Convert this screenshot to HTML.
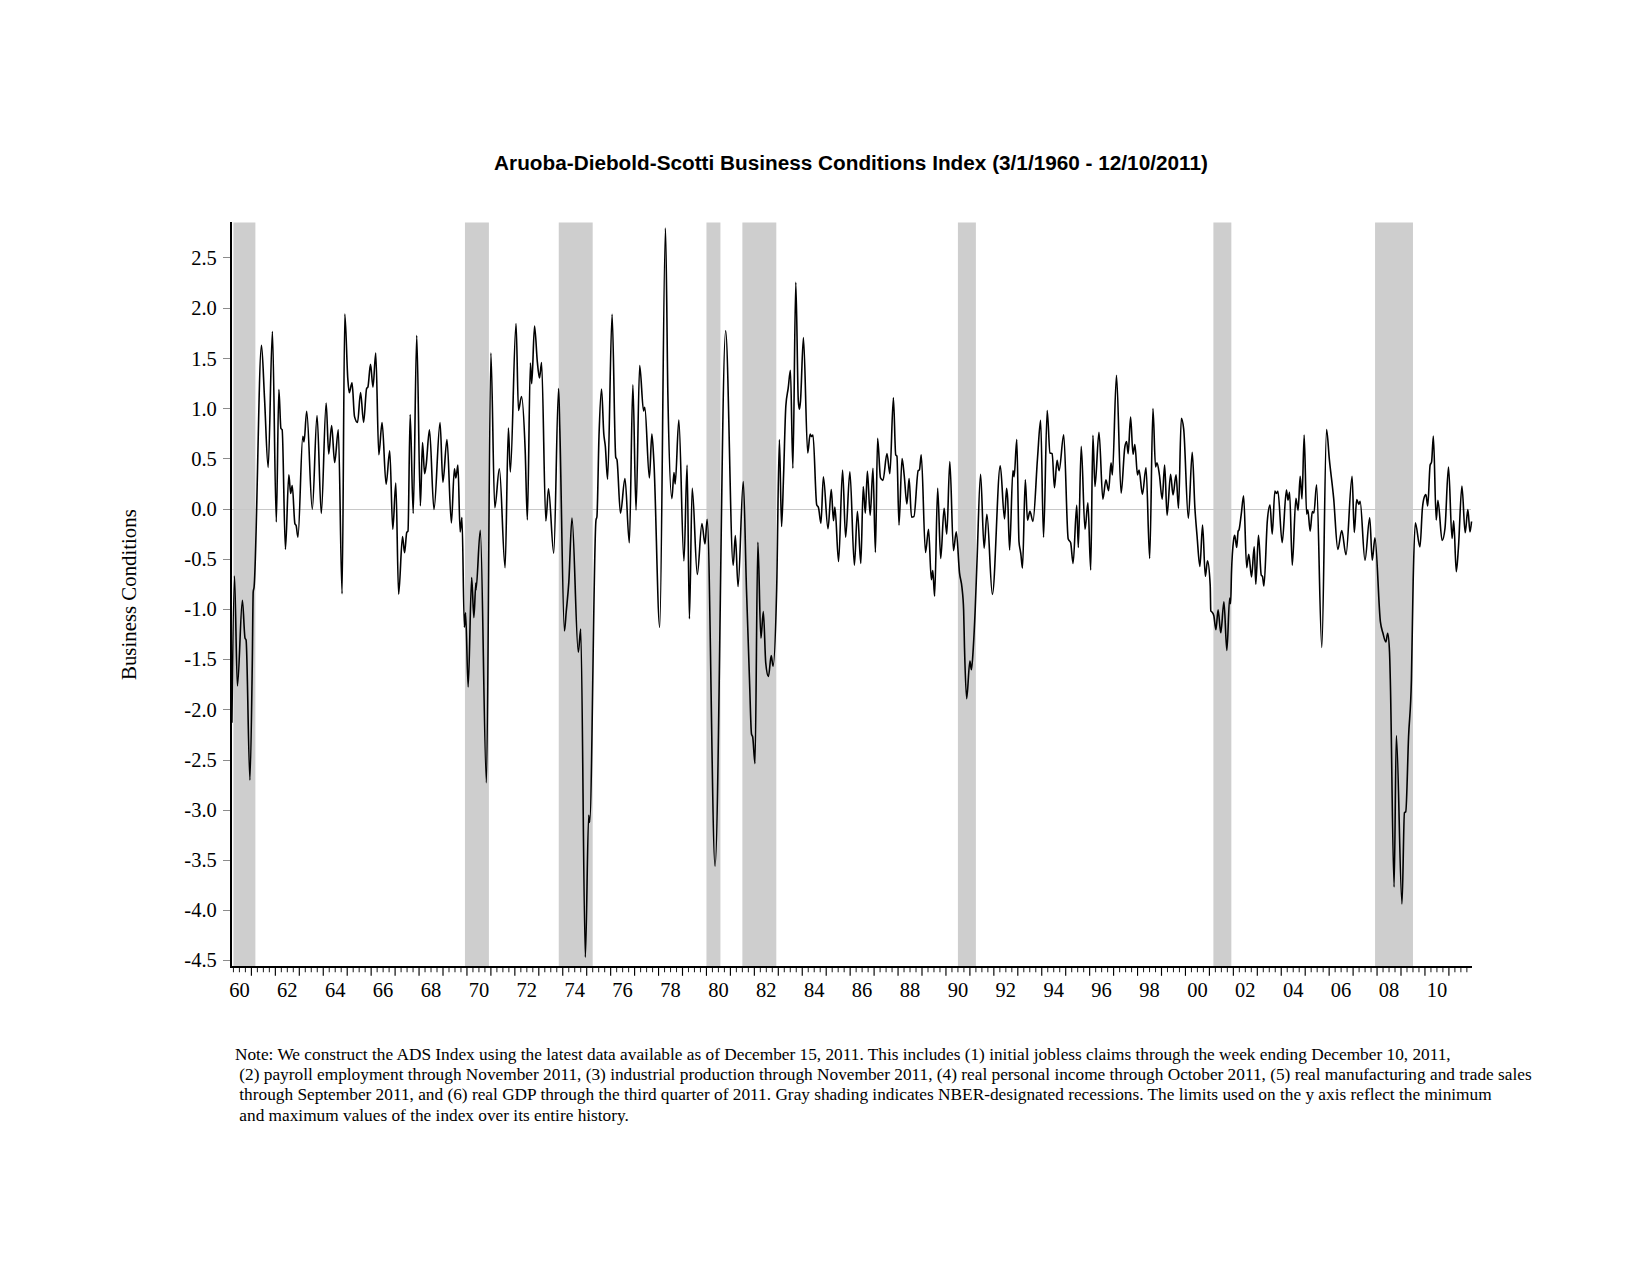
<!DOCTYPE html>
<html><head><meta charset="utf-8"><style>
html,body{margin:0;padding:0;background:#fff;width:1651px;height:1275px;overflow:hidden}
svg{position:absolute;left:0;top:0}
.tl{font-family:"Liberation Serif",serif;font-size:20.5px;fill:#000}
.yt{font-family:"Liberation Serif",serif;font-size:20.85px;fill:#000}
.title{font-family:"Liberation Sans",sans-serif;font-size:20.75px;font-weight:bold;fill:#000}
.note{position:absolute;left:235px;top:1045px;font-family:"Liberation Serif",serif;font-size:17.3px;line-height:20.2px;color:#000;white-space:pre}
</style></head><body>
<svg width="1651" height="1275" viewBox="0 0 1651 1275">
<rect x="233.44" y="222.5" width="21.95" height="744.5" fill="#cecece"/>
<rect x="464.95" y="222.5" width="23.95" height="744.5" fill="#cecece"/>
<rect x="558.76" y="222.5" width="33.93" height="744.5" fill="#cecece"/>
<rect x="706.45" y="222.5" width="13.97" height="744.5" fill="#cecece"/>
<rect x="742.38" y="222.5" width="33.93" height="744.5" fill="#cecece"/>
<rect x="957.92" y="222.5" width="17.96" height="744.5" fill="#cecece"/>
<rect x="1213.39" y="222.5" width="17.96" height="744.5" fill="#cecece"/>
<rect x="1375.05" y="222.5" width="37.92" height="744.5" fill="#cecece"/>
<line x1="232" y1="509.5" x2="1471" y2="509.5" stroke="#c8c8c8" stroke-width="1"/>
<line x1="223" y1="960.50" x2="230" y2="960.50" stroke="#8c8c8c" stroke-width="1"/>
<text x="216.8" y="967.35" text-anchor="end" class="tl">-4.5</text>
<line x1="223" y1="910.50" x2="230" y2="910.50" stroke="#8c8c8c" stroke-width="1"/>
<text x="216.8" y="917.20" text-anchor="end" class="tl">-4.0</text>
<line x1="223" y1="860.50" x2="230" y2="860.50" stroke="#8c8c8c" stroke-width="1"/>
<text x="216.8" y="867.05" text-anchor="end" class="tl">-3.5</text>
<line x1="223" y1="810.50" x2="230" y2="810.50" stroke="#8c8c8c" stroke-width="1"/>
<text x="216.8" y="816.90" text-anchor="end" class="tl">-3.0</text>
<line x1="223" y1="760.50" x2="230" y2="760.50" stroke="#8c8c8c" stroke-width="1"/>
<text x="216.8" y="766.75" text-anchor="end" class="tl">-2.5</text>
<line x1="223" y1="709.50" x2="230" y2="709.50" stroke="#8c8c8c" stroke-width="1"/>
<text x="216.8" y="716.60" text-anchor="end" class="tl">-2.0</text>
<line x1="223" y1="659.50" x2="230" y2="659.50" stroke="#8c8c8c" stroke-width="1"/>
<text x="216.8" y="666.45" text-anchor="end" class="tl">-1.5</text>
<line x1="223" y1="609.50" x2="230" y2="609.50" stroke="#8c8c8c" stroke-width="1"/>
<text x="216.8" y="616.30" text-anchor="end" class="tl">-1.0</text>
<line x1="223" y1="559.50" x2="230" y2="559.50" stroke="#8c8c8c" stroke-width="1"/>
<text x="216.8" y="566.15" text-anchor="end" class="tl">-0.5</text>
<line x1="223" y1="509.50" x2="230" y2="509.50" stroke="#8c8c8c" stroke-width="1"/>
<text x="216.8" y="516.00" text-anchor="end" class="tl">0.0</text>
<line x1="223" y1="458.50" x2="230" y2="458.50" stroke="#8c8c8c" stroke-width="1"/>
<text x="216.8" y="465.85" text-anchor="end" class="tl">0.5</text>
<line x1="223" y1="408.50" x2="230" y2="408.50" stroke="#8c8c8c" stroke-width="1"/>
<text x="216.8" y="415.70" text-anchor="end" class="tl">1.0</text>
<line x1="223" y1="358.50" x2="230" y2="358.50" stroke="#8c8c8c" stroke-width="1"/>
<text x="216.8" y="365.55" text-anchor="end" class="tl">1.5</text>
<line x1="223" y1="308.50" x2="230" y2="308.50" stroke="#8c8c8c" stroke-width="1"/>
<text x="216.8" y="315.40" text-anchor="end" class="tl">2.0</text>
<line x1="223" y1="257.50" x2="230" y2="257.50" stroke="#8c8c8c" stroke-width="1"/>
<text x="216.8" y="265.25" text-anchor="end" class="tl">2.5</text>
<line x1="233.44" y1="967" x2="233.44" y2="972.2" stroke="#222" stroke-width="1.05"/>
<line x1="239.42" y1="967" x2="239.42" y2="972.2" stroke="#222" stroke-width="1.05"/>
<line x1="245.41" y1="967" x2="245.41" y2="972.2" stroke="#222" stroke-width="1.05"/>
<line x1="251.40" y1="967" x2="251.40" y2="975.8" stroke="#000" stroke-width="1.15"/>
<line x1="257.39" y1="967" x2="257.39" y2="972.2" stroke="#222" stroke-width="1.05"/>
<line x1="263.38" y1="967" x2="263.38" y2="972.2" stroke="#222" stroke-width="1.05"/>
<line x1="269.36" y1="967" x2="269.36" y2="972.2" stroke="#222" stroke-width="1.05"/>
<line x1="275.35" y1="967" x2="275.35" y2="975.8" stroke="#000" stroke-width="1.15"/>
<line x1="281.34" y1="967" x2="281.34" y2="972.2" stroke="#222" stroke-width="1.05"/>
<line x1="287.32" y1="967" x2="287.32" y2="972.2" stroke="#222" stroke-width="1.05"/>
<line x1="293.31" y1="967" x2="293.31" y2="972.2" stroke="#222" stroke-width="1.05"/>
<line x1="299.30" y1="967" x2="299.30" y2="975.8" stroke="#000" stroke-width="1.15"/>
<line x1="305.29" y1="967" x2="305.29" y2="972.2" stroke="#222" stroke-width="1.05"/>
<line x1="311.27" y1="967" x2="311.27" y2="972.2" stroke="#222" stroke-width="1.05"/>
<line x1="317.26" y1="967" x2="317.26" y2="972.2" stroke="#222" stroke-width="1.05"/>
<line x1="323.25" y1="967" x2="323.25" y2="975.8" stroke="#000" stroke-width="1.15"/>
<line x1="329.24" y1="967" x2="329.24" y2="972.2" stroke="#222" stroke-width="1.05"/>
<line x1="335.22" y1="967" x2="335.22" y2="972.2" stroke="#222" stroke-width="1.05"/>
<line x1="341.21" y1="967" x2="341.21" y2="972.2" stroke="#222" stroke-width="1.05"/>
<line x1="347.20" y1="967" x2="347.20" y2="975.8" stroke="#000" stroke-width="1.15"/>
<line x1="353.19" y1="967" x2="353.19" y2="972.2" stroke="#222" stroke-width="1.05"/>
<line x1="359.17" y1="967" x2="359.17" y2="972.2" stroke="#222" stroke-width="1.05"/>
<line x1="365.16" y1="967" x2="365.16" y2="972.2" stroke="#222" stroke-width="1.05"/>
<line x1="371.15" y1="967" x2="371.15" y2="975.8" stroke="#000" stroke-width="1.15"/>
<line x1="377.14" y1="967" x2="377.14" y2="972.2" stroke="#222" stroke-width="1.05"/>
<line x1="383.12" y1="967" x2="383.12" y2="972.2" stroke="#222" stroke-width="1.05"/>
<line x1="389.11" y1="967" x2="389.11" y2="972.2" stroke="#222" stroke-width="1.05"/>
<line x1="395.10" y1="967" x2="395.10" y2="975.8" stroke="#000" stroke-width="1.15"/>
<line x1="401.09" y1="967" x2="401.09" y2="972.2" stroke="#222" stroke-width="1.05"/>
<line x1="407.07" y1="967" x2="407.07" y2="972.2" stroke="#222" stroke-width="1.05"/>
<line x1="413.06" y1="967" x2="413.06" y2="972.2" stroke="#222" stroke-width="1.05"/>
<line x1="419.05" y1="967" x2="419.05" y2="975.8" stroke="#000" stroke-width="1.15"/>
<line x1="425.04" y1="967" x2="425.04" y2="972.2" stroke="#222" stroke-width="1.05"/>
<line x1="431.02" y1="967" x2="431.02" y2="972.2" stroke="#222" stroke-width="1.05"/>
<line x1="437.01" y1="967" x2="437.01" y2="972.2" stroke="#222" stroke-width="1.05"/>
<line x1="443.00" y1="967" x2="443.00" y2="975.8" stroke="#000" stroke-width="1.15"/>
<line x1="448.99" y1="967" x2="448.99" y2="972.2" stroke="#222" stroke-width="1.05"/>
<line x1="454.98" y1="967" x2="454.98" y2="972.2" stroke="#222" stroke-width="1.05"/>
<line x1="460.96" y1="967" x2="460.96" y2="972.2" stroke="#222" stroke-width="1.05"/>
<line x1="466.95" y1="967" x2="466.95" y2="975.8" stroke="#000" stroke-width="1.15"/>
<line x1="472.94" y1="967" x2="472.94" y2="972.2" stroke="#222" stroke-width="1.05"/>
<line x1="478.92" y1="967" x2="478.92" y2="972.2" stroke="#222" stroke-width="1.05"/>
<line x1="484.91" y1="967" x2="484.91" y2="972.2" stroke="#222" stroke-width="1.05"/>
<line x1="490.90" y1="967" x2="490.90" y2="975.8" stroke="#000" stroke-width="1.15"/>
<line x1="496.89" y1="967" x2="496.89" y2="972.2" stroke="#222" stroke-width="1.05"/>
<line x1="502.88" y1="967" x2="502.88" y2="972.2" stroke="#222" stroke-width="1.05"/>
<line x1="508.86" y1="967" x2="508.86" y2="972.2" stroke="#222" stroke-width="1.05"/>
<line x1="514.85" y1="967" x2="514.85" y2="975.8" stroke="#000" stroke-width="1.15"/>
<line x1="520.84" y1="967" x2="520.84" y2="972.2" stroke="#222" stroke-width="1.05"/>
<line x1="526.83" y1="967" x2="526.83" y2="972.2" stroke="#222" stroke-width="1.05"/>
<line x1="532.81" y1="967" x2="532.81" y2="972.2" stroke="#222" stroke-width="1.05"/>
<line x1="538.80" y1="967" x2="538.80" y2="975.8" stroke="#000" stroke-width="1.15"/>
<line x1="544.79" y1="967" x2="544.79" y2="972.2" stroke="#222" stroke-width="1.05"/>
<line x1="550.77" y1="967" x2="550.77" y2="972.2" stroke="#222" stroke-width="1.05"/>
<line x1="556.76" y1="967" x2="556.76" y2="972.2" stroke="#222" stroke-width="1.05"/>
<line x1="562.75" y1="967" x2="562.75" y2="975.8" stroke="#000" stroke-width="1.15"/>
<line x1="568.74" y1="967" x2="568.74" y2="972.2" stroke="#222" stroke-width="1.05"/>
<line x1="574.72" y1="967" x2="574.72" y2="972.2" stroke="#222" stroke-width="1.05"/>
<line x1="580.71" y1="967" x2="580.71" y2="972.2" stroke="#222" stroke-width="1.05"/>
<line x1="586.70" y1="967" x2="586.70" y2="975.8" stroke="#000" stroke-width="1.15"/>
<line x1="592.69" y1="967" x2="592.69" y2="972.2" stroke="#222" stroke-width="1.05"/>
<line x1="598.67" y1="967" x2="598.67" y2="972.2" stroke="#222" stroke-width="1.05"/>
<line x1="604.66" y1="967" x2="604.66" y2="972.2" stroke="#222" stroke-width="1.05"/>
<line x1="610.65" y1="967" x2="610.65" y2="975.8" stroke="#000" stroke-width="1.15"/>
<line x1="616.64" y1="967" x2="616.64" y2="972.2" stroke="#222" stroke-width="1.05"/>
<line x1="622.62" y1="967" x2="622.62" y2="972.2" stroke="#222" stroke-width="1.05"/>
<line x1="628.61" y1="967" x2="628.61" y2="972.2" stroke="#222" stroke-width="1.05"/>
<line x1="634.60" y1="967" x2="634.60" y2="975.8" stroke="#000" stroke-width="1.15"/>
<line x1="640.59" y1="967" x2="640.59" y2="972.2" stroke="#222" stroke-width="1.05"/>
<line x1="646.58" y1="967" x2="646.58" y2="972.2" stroke="#222" stroke-width="1.05"/>
<line x1="652.56" y1="967" x2="652.56" y2="972.2" stroke="#222" stroke-width="1.05"/>
<line x1="658.55" y1="967" x2="658.55" y2="975.8" stroke="#000" stroke-width="1.15"/>
<line x1="664.54" y1="967" x2="664.54" y2="972.2" stroke="#222" stroke-width="1.05"/>
<line x1="670.52" y1="967" x2="670.52" y2="972.2" stroke="#222" stroke-width="1.05"/>
<line x1="676.51" y1="967" x2="676.51" y2="972.2" stroke="#222" stroke-width="1.05"/>
<line x1="682.50" y1="967" x2="682.50" y2="975.8" stroke="#000" stroke-width="1.15"/>
<line x1="688.49" y1="967" x2="688.49" y2="972.2" stroke="#222" stroke-width="1.05"/>
<line x1="694.47" y1="967" x2="694.47" y2="972.2" stroke="#222" stroke-width="1.05"/>
<line x1="700.46" y1="967" x2="700.46" y2="972.2" stroke="#222" stroke-width="1.05"/>
<line x1="706.45" y1="967" x2="706.45" y2="975.8" stroke="#000" stroke-width="1.15"/>
<line x1="712.44" y1="967" x2="712.44" y2="972.2" stroke="#222" stroke-width="1.05"/>
<line x1="718.42" y1="967" x2="718.42" y2="972.2" stroke="#222" stroke-width="1.05"/>
<line x1="724.41" y1="967" x2="724.41" y2="972.2" stroke="#222" stroke-width="1.05"/>
<line x1="730.40" y1="967" x2="730.40" y2="975.8" stroke="#000" stroke-width="1.15"/>
<line x1="736.39" y1="967" x2="736.39" y2="972.2" stroke="#222" stroke-width="1.05"/>
<line x1="742.38" y1="967" x2="742.38" y2="972.2" stroke="#222" stroke-width="1.05"/>
<line x1="748.36" y1="967" x2="748.36" y2="972.2" stroke="#222" stroke-width="1.05"/>
<line x1="754.35" y1="967" x2="754.35" y2="975.8" stroke="#000" stroke-width="1.15"/>
<line x1="760.34" y1="967" x2="760.34" y2="972.2" stroke="#222" stroke-width="1.05"/>
<line x1="766.33" y1="967" x2="766.33" y2="972.2" stroke="#222" stroke-width="1.05"/>
<line x1="772.31" y1="967" x2="772.31" y2="972.2" stroke="#222" stroke-width="1.05"/>
<line x1="778.30" y1="967" x2="778.30" y2="975.8" stroke="#000" stroke-width="1.15"/>
<line x1="784.29" y1="967" x2="784.29" y2="972.2" stroke="#222" stroke-width="1.05"/>
<line x1="790.27" y1="967" x2="790.27" y2="972.2" stroke="#222" stroke-width="1.05"/>
<line x1="796.26" y1="967" x2="796.26" y2="972.2" stroke="#222" stroke-width="1.05"/>
<line x1="802.25" y1="967" x2="802.25" y2="975.8" stroke="#000" stroke-width="1.15"/>
<line x1="808.24" y1="967" x2="808.24" y2="972.2" stroke="#222" stroke-width="1.05"/>
<line x1="814.22" y1="967" x2="814.22" y2="972.2" stroke="#222" stroke-width="1.05"/>
<line x1="820.21" y1="967" x2="820.21" y2="972.2" stroke="#222" stroke-width="1.05"/>
<line x1="826.20" y1="967" x2="826.20" y2="975.8" stroke="#000" stroke-width="1.15"/>
<line x1="832.19" y1="967" x2="832.19" y2="972.2" stroke="#222" stroke-width="1.05"/>
<line x1="838.17" y1="967" x2="838.17" y2="972.2" stroke="#222" stroke-width="1.05"/>
<line x1="844.16" y1="967" x2="844.16" y2="972.2" stroke="#222" stroke-width="1.05"/>
<line x1="850.15" y1="967" x2="850.15" y2="975.8" stroke="#000" stroke-width="1.15"/>
<line x1="856.14" y1="967" x2="856.14" y2="972.2" stroke="#222" stroke-width="1.05"/>
<line x1="862.12" y1="967" x2="862.12" y2="972.2" stroke="#222" stroke-width="1.05"/>
<line x1="868.11" y1="967" x2="868.11" y2="972.2" stroke="#222" stroke-width="1.05"/>
<line x1="874.10" y1="967" x2="874.10" y2="975.8" stroke="#000" stroke-width="1.15"/>
<line x1="880.09" y1="967" x2="880.09" y2="972.2" stroke="#222" stroke-width="1.05"/>
<line x1="886.08" y1="967" x2="886.08" y2="972.2" stroke="#222" stroke-width="1.05"/>
<line x1="892.06" y1="967" x2="892.06" y2="972.2" stroke="#222" stroke-width="1.05"/>
<line x1="898.05" y1="967" x2="898.05" y2="975.8" stroke="#000" stroke-width="1.15"/>
<line x1="904.04" y1="967" x2="904.04" y2="972.2" stroke="#222" stroke-width="1.05"/>
<line x1="910.02" y1="967" x2="910.02" y2="972.2" stroke="#222" stroke-width="1.05"/>
<line x1="916.01" y1="967" x2="916.01" y2="972.2" stroke="#222" stroke-width="1.05"/>
<line x1="922.00" y1="967" x2="922.00" y2="975.8" stroke="#000" stroke-width="1.15"/>
<line x1="927.99" y1="967" x2="927.99" y2="972.2" stroke="#222" stroke-width="1.05"/>
<line x1="933.97" y1="967" x2="933.97" y2="972.2" stroke="#222" stroke-width="1.05"/>
<line x1="939.96" y1="967" x2="939.96" y2="972.2" stroke="#222" stroke-width="1.05"/>
<line x1="945.95" y1="967" x2="945.95" y2="975.8" stroke="#000" stroke-width="1.15"/>
<line x1="951.94" y1="967" x2="951.94" y2="972.2" stroke="#222" stroke-width="1.05"/>
<line x1="957.92" y1="967" x2="957.92" y2="972.2" stroke="#222" stroke-width="1.05"/>
<line x1="963.91" y1="967" x2="963.91" y2="972.2" stroke="#222" stroke-width="1.05"/>
<line x1="969.90" y1="967" x2="969.90" y2="975.8" stroke="#000" stroke-width="1.15"/>
<line x1="975.89" y1="967" x2="975.89" y2="972.2" stroke="#222" stroke-width="1.05"/>
<line x1="981.88" y1="967" x2="981.88" y2="972.2" stroke="#222" stroke-width="1.05"/>
<line x1="987.86" y1="967" x2="987.86" y2="972.2" stroke="#222" stroke-width="1.05"/>
<line x1="993.85" y1="967" x2="993.85" y2="975.8" stroke="#000" stroke-width="1.15"/>
<line x1="999.84" y1="967" x2="999.84" y2="972.2" stroke="#222" stroke-width="1.05"/>
<line x1="1005.83" y1="967" x2="1005.83" y2="972.2" stroke="#222" stroke-width="1.05"/>
<line x1="1011.81" y1="967" x2="1011.81" y2="972.2" stroke="#222" stroke-width="1.05"/>
<line x1="1017.80" y1="967" x2="1017.80" y2="975.8" stroke="#000" stroke-width="1.15"/>
<line x1="1023.79" y1="967" x2="1023.79" y2="972.2" stroke="#222" stroke-width="1.05"/>
<line x1="1029.77" y1="967" x2="1029.77" y2="972.2" stroke="#222" stroke-width="1.05"/>
<line x1="1035.76" y1="967" x2="1035.76" y2="972.2" stroke="#222" stroke-width="1.05"/>
<line x1="1041.75" y1="967" x2="1041.75" y2="975.8" stroke="#000" stroke-width="1.15"/>
<line x1="1047.74" y1="967" x2="1047.74" y2="972.2" stroke="#222" stroke-width="1.05"/>
<line x1="1053.72" y1="967" x2="1053.72" y2="972.2" stroke="#222" stroke-width="1.05"/>
<line x1="1059.71" y1="967" x2="1059.71" y2="972.2" stroke="#222" stroke-width="1.05"/>
<line x1="1065.70" y1="967" x2="1065.70" y2="975.8" stroke="#000" stroke-width="1.15"/>
<line x1="1071.69" y1="967" x2="1071.69" y2="972.2" stroke="#222" stroke-width="1.05"/>
<line x1="1077.67" y1="967" x2="1077.67" y2="972.2" stroke="#222" stroke-width="1.05"/>
<line x1="1083.66" y1="967" x2="1083.66" y2="972.2" stroke="#222" stroke-width="1.05"/>
<line x1="1089.65" y1="967" x2="1089.65" y2="975.8" stroke="#000" stroke-width="1.15"/>
<line x1="1095.64" y1="967" x2="1095.64" y2="972.2" stroke="#222" stroke-width="1.05"/>
<line x1="1101.62" y1="967" x2="1101.62" y2="972.2" stroke="#222" stroke-width="1.05"/>
<line x1="1107.61" y1="967" x2="1107.61" y2="972.2" stroke="#222" stroke-width="1.05"/>
<line x1="1113.60" y1="967" x2="1113.60" y2="975.8" stroke="#000" stroke-width="1.15"/>
<line x1="1119.59" y1="967" x2="1119.59" y2="972.2" stroke="#222" stroke-width="1.05"/>
<line x1="1125.58" y1="967" x2="1125.58" y2="972.2" stroke="#222" stroke-width="1.05"/>
<line x1="1131.56" y1="967" x2="1131.56" y2="972.2" stroke="#222" stroke-width="1.05"/>
<line x1="1137.55" y1="967" x2="1137.55" y2="975.8" stroke="#000" stroke-width="1.15"/>
<line x1="1143.54" y1="967" x2="1143.54" y2="972.2" stroke="#222" stroke-width="1.05"/>
<line x1="1149.52" y1="967" x2="1149.52" y2="972.2" stroke="#222" stroke-width="1.05"/>
<line x1="1155.51" y1="967" x2="1155.51" y2="972.2" stroke="#222" stroke-width="1.05"/>
<line x1="1161.50" y1="967" x2="1161.50" y2="975.8" stroke="#000" stroke-width="1.15"/>
<line x1="1167.49" y1="967" x2="1167.49" y2="972.2" stroke="#222" stroke-width="1.05"/>
<line x1="1173.47" y1="967" x2="1173.47" y2="972.2" stroke="#222" stroke-width="1.05"/>
<line x1="1179.46" y1="967" x2="1179.46" y2="972.2" stroke="#222" stroke-width="1.05"/>
<line x1="1185.45" y1="967" x2="1185.45" y2="975.8" stroke="#000" stroke-width="1.15"/>
<line x1="1191.44" y1="967" x2="1191.44" y2="972.2" stroke="#222" stroke-width="1.05"/>
<line x1="1197.42" y1="967" x2="1197.42" y2="972.2" stroke="#222" stroke-width="1.05"/>
<line x1="1203.41" y1="967" x2="1203.41" y2="972.2" stroke="#222" stroke-width="1.05"/>
<line x1="1209.40" y1="967" x2="1209.40" y2="975.8" stroke="#000" stroke-width="1.15"/>
<line x1="1215.39" y1="967" x2="1215.39" y2="972.2" stroke="#222" stroke-width="1.05"/>
<line x1="1221.38" y1="967" x2="1221.38" y2="972.2" stroke="#222" stroke-width="1.05"/>
<line x1="1227.36" y1="967" x2="1227.36" y2="972.2" stroke="#222" stroke-width="1.05"/>
<line x1="1233.35" y1="967" x2="1233.35" y2="975.8" stroke="#000" stroke-width="1.15"/>
<line x1="1239.34" y1="967" x2="1239.34" y2="972.2" stroke="#222" stroke-width="1.05"/>
<line x1="1245.33" y1="967" x2="1245.33" y2="972.2" stroke="#222" stroke-width="1.05"/>
<line x1="1251.31" y1="967" x2="1251.31" y2="972.2" stroke="#222" stroke-width="1.05"/>
<line x1="1257.30" y1="967" x2="1257.30" y2="975.8" stroke="#000" stroke-width="1.15"/>
<line x1="1263.29" y1="967" x2="1263.29" y2="972.2" stroke="#222" stroke-width="1.05"/>
<line x1="1269.28" y1="967" x2="1269.28" y2="972.2" stroke="#222" stroke-width="1.05"/>
<line x1="1275.26" y1="967" x2="1275.26" y2="972.2" stroke="#222" stroke-width="1.05"/>
<line x1="1281.25" y1="967" x2="1281.25" y2="975.8" stroke="#000" stroke-width="1.15"/>
<line x1="1287.24" y1="967" x2="1287.24" y2="972.2" stroke="#222" stroke-width="1.05"/>
<line x1="1293.22" y1="967" x2="1293.22" y2="972.2" stroke="#222" stroke-width="1.05"/>
<line x1="1299.21" y1="967" x2="1299.21" y2="972.2" stroke="#222" stroke-width="1.05"/>
<line x1="1305.20" y1="967" x2="1305.20" y2="975.8" stroke="#000" stroke-width="1.15"/>
<line x1="1311.19" y1="967" x2="1311.19" y2="972.2" stroke="#222" stroke-width="1.05"/>
<line x1="1317.17" y1="967" x2="1317.17" y2="972.2" stroke="#222" stroke-width="1.05"/>
<line x1="1323.16" y1="967" x2="1323.16" y2="972.2" stroke="#222" stroke-width="1.05"/>
<line x1="1329.15" y1="967" x2="1329.15" y2="975.8" stroke="#000" stroke-width="1.15"/>
<line x1="1335.14" y1="967" x2="1335.14" y2="972.2" stroke="#222" stroke-width="1.05"/>
<line x1="1341.12" y1="967" x2="1341.12" y2="972.2" stroke="#222" stroke-width="1.05"/>
<line x1="1347.11" y1="967" x2="1347.11" y2="972.2" stroke="#222" stroke-width="1.05"/>
<line x1="1353.10" y1="967" x2="1353.10" y2="975.8" stroke="#000" stroke-width="1.15"/>
<line x1="1359.09" y1="967" x2="1359.09" y2="972.2" stroke="#222" stroke-width="1.05"/>
<line x1="1365.08" y1="967" x2="1365.08" y2="972.2" stroke="#222" stroke-width="1.05"/>
<line x1="1371.06" y1="967" x2="1371.06" y2="972.2" stroke="#222" stroke-width="1.05"/>
<line x1="1377.05" y1="967" x2="1377.05" y2="975.8" stroke="#000" stroke-width="1.15"/>
<line x1="1383.04" y1="967" x2="1383.04" y2="972.2" stroke="#222" stroke-width="1.05"/>
<line x1="1389.03" y1="967" x2="1389.03" y2="972.2" stroke="#222" stroke-width="1.05"/>
<line x1="1395.01" y1="967" x2="1395.01" y2="972.2" stroke="#222" stroke-width="1.05"/>
<line x1="1401.00" y1="967" x2="1401.00" y2="975.8" stroke="#000" stroke-width="1.15"/>
<line x1="1406.99" y1="967" x2="1406.99" y2="972.2" stroke="#222" stroke-width="1.05"/>
<line x1="1412.97" y1="967" x2="1412.97" y2="972.2" stroke="#222" stroke-width="1.05"/>
<line x1="1418.96" y1="967" x2="1418.96" y2="972.2" stroke="#222" stroke-width="1.05"/>
<line x1="1424.95" y1="967" x2="1424.95" y2="975.8" stroke="#000" stroke-width="1.15"/>
<line x1="1430.94" y1="967" x2="1430.94" y2="972.2" stroke="#222" stroke-width="1.05"/>
<line x1="1436.92" y1="967" x2="1436.92" y2="972.2" stroke="#222" stroke-width="1.05"/>
<line x1="1442.91" y1="967" x2="1442.91" y2="972.2" stroke="#222" stroke-width="1.05"/>
<line x1="1448.90" y1="967" x2="1448.90" y2="975.8" stroke="#000" stroke-width="1.15"/>
<line x1="1454.89" y1="967" x2="1454.89" y2="972.2" stroke="#222" stroke-width="1.05"/>
<line x1="1460.88" y1="967" x2="1460.88" y2="972.2" stroke="#222" stroke-width="1.05"/>
<line x1="1466.86" y1="967" x2="1466.86" y2="972.2" stroke="#222" stroke-width="1.05"/>
<text x="239.42" y="996.6" text-anchor="middle" class="tl">60</text>
<text x="287.32" y="996.6" text-anchor="middle" class="tl">62</text>
<text x="335.22" y="996.6" text-anchor="middle" class="tl">64</text>
<text x="383.12" y="996.6" text-anchor="middle" class="tl">66</text>
<text x="431.02" y="996.6" text-anchor="middle" class="tl">68</text>
<text x="478.92" y="996.6" text-anchor="middle" class="tl">70</text>
<text x="526.83" y="996.6" text-anchor="middle" class="tl">72</text>
<text x="574.72" y="996.6" text-anchor="middle" class="tl">74</text>
<text x="622.62" y="996.6" text-anchor="middle" class="tl">76</text>
<text x="670.52" y="996.6" text-anchor="middle" class="tl">78</text>
<text x="718.42" y="996.6" text-anchor="middle" class="tl">80</text>
<text x="766.33" y="996.6" text-anchor="middle" class="tl">82</text>
<text x="814.22" y="996.6" text-anchor="middle" class="tl">84</text>
<text x="862.12" y="996.6" text-anchor="middle" class="tl">86</text>
<text x="910.02" y="996.6" text-anchor="middle" class="tl">88</text>
<text x="957.92" y="996.6" text-anchor="middle" class="tl">90</text>
<text x="1005.83" y="996.6" text-anchor="middle" class="tl">92</text>
<text x="1053.72" y="996.6" text-anchor="middle" class="tl">94</text>
<text x="1101.62" y="996.6" text-anchor="middle" class="tl">96</text>
<text x="1149.52" y="996.6" text-anchor="middle" class="tl">98</text>
<text x="1197.42" y="996.6" text-anchor="middle" class="tl">00</text>
<text x="1245.33" y="996.6" text-anchor="middle" class="tl">02</text>
<text x="1293.22" y="996.6" text-anchor="middle" class="tl">04</text>
<text x="1341.12" y="996.6" text-anchor="middle" class="tl">06</text>
<text x="1389.03" y="996.6" text-anchor="middle" class="tl">08</text>
<text x="1436.92" y="996.6" text-anchor="middle" class="tl">10</text>
<path d="M231.93,722.67C232.78,649.36 233.63,576.05 234.48,576.05C235.46,576.05 236.43,686.00 237.40,686.00C239.06,686.00 240.72,600.36 242.39,600.36C243.26,600.36 244.13,634.73 245.00,638.00C245.36,639.33 245.71,638.67 246.07,640.00C247.36,644.83 248.64,780.00 249.93,780.00C250.73,780.00 251.53,716.73 252.33,660.00C252.62,639.51 252.91,595.10 253.20,592.00C253.48,589.00 253.76,589.77 254.04,587.50C256.52,567.35 259.00,345.20 261.47,345.20C262.49,345.20 263.50,379.72 264.51,398.09C265.73,420.12 266.95,467.39 268.16,467.39C269.58,467.39 271.00,331.46 272.42,331.46C273.71,331.46 275.01,521.95 276.31,521.95C277.16,521.95 278.01,389.57 278.86,389.57C279.55,389.57 280.24,427.10 280.93,428.48C281.33,429.29 281.74,428.89 282.14,429.70C283.24,431.88 284.33,549.30 285.43,549.30C286.56,549.30 287.70,474.68 288.83,474.68C289.44,474.68 290.05,493.37 290.65,493.37C291.18,493.37 291.71,485.47 292.23,485.47C293.13,485.47 294.02,521.09 294.91,523.77C295.31,524.98 295.72,524.38 296.12,525.59C296.73,527.42 297.34,537.14 297.95,537.14C299.57,537.14 301.19,436.38 302.81,436.38C303.22,436.38 303.62,441.85 304.03,441.85C304.92,441.85 305.81,411.22 306.70,411.22C308.57,411.22 310.43,509.18 312.29,509.18C313.88,509.18 315.46,415.47 317.04,415.47C318.45,415.47 319.87,513.43 321.29,513.43C322.91,513.43 324.53,402.95 326.16,402.95C327.01,402.95 327.86,454.01 328.71,454.01C329.68,454.01 330.65,425.44 331.63,425.44C332.64,425.44 333.65,462.52 334.67,462.52C335.88,462.52 337.10,429.70 338.31,429.70C339.57,429.70 340.83,593.68 342.08,593.68C342.99,593.68 343.89,314.00 344.80,314.00C345.80,314.00 346.80,365.14 347.80,378.63C348.28,385.20 348.77,392.61 349.26,392.61C350.19,392.61 351.12,382.89 352.05,382.89C352.86,382.89 353.67,413.08 354.48,416.32C355.50,420.37 356.51,422.40 357.52,422.40C358.54,422.40 359.55,392.61 360.56,392.61C361.58,392.61 362.59,422.40 363.60,422.40C364.61,422.40 365.63,390.39 366.64,388.36C367.05,387.55 367.45,387.95 367.86,387.14C368.75,385.36 369.64,364.41 370.53,364.41C371.34,364.41 372.15,387.14 372.96,387.14C373.90,387.14 374.83,353.10 375.76,353.10C376.77,353.10 377.79,454.62 378.80,454.62C379.89,454.62 380.99,422.64 382.08,422.64C383.42,422.64 384.76,484.26 386.09,484.26C387.31,484.26 388.53,450.73 389.74,450.73C390.75,450.73 391.77,529.24 392.78,529.24C393.79,529.24 394.81,483.04 395.82,483.04C396.75,483.04 397.68,594.29 398.62,594.29C399.91,594.29 401.21,536.53 402.51,536.53C403.20,536.53 403.89,552.71 404.57,552.71C405.30,552.71 406.03,533.74 406.76,532.28C407.17,531.47 407.57,531.87 407.98,531.06C408.71,529.60 409.44,414.50 410.17,414.50C411.18,414.50 412.19,513.43 413.21,513.43C414.38,513.43 415.56,335.47 416.73,335.47C417.95,335.47 419.16,505.78 420.38,505.78C421.09,505.78 421.79,442.56 422.50,442.56C423.21,442.56 423.91,473.66 424.62,473.66C425.11,473.66 425.59,469.13 426.08,465.75C427.21,457.86 428.35,429.89 429.48,429.89C430.98,429.89 432.48,509.52 433.98,509.52C436.01,509.52 438.03,422.59 440.06,422.59C440.99,422.59 441.93,482.17 442.86,482.17C444.24,482.17 445.61,439.61 446.99,439.61C448.45,439.61 449.91,522.90 451.37,522.90C452.38,522.90 453.39,468.79 454.41,468.79C454.89,468.79 455.38,477.91 455.87,477.91C456.56,477.91 457.24,465.15 457.93,465.15C458.66,465.15 459.39,531.86 460.12,531.86C460.73,531.86 461.34,517.43 461.95,517.43C462.76,517.43 463.57,627.30 464.38,627.30C464.78,627.30 465.19,612.71 465.59,612.71C466.45,612.71 467.30,686.95 468.15,686.95C469.33,686.95 470.50,577.46 471.67,577.46C472.40,577.46 473.13,617.58 473.86,617.58C474.54,617.58 475.22,583.00 475.90,583.00C475.91,583.00 475.92,590.22 475.93,590.22C477.39,590.22 478.84,530.42 480.30,530.42C482.35,530.42 484.39,782.71 486.44,782.71C487.92,782.71 489.40,353.06 490.88,353.06C492.18,353.06 493.48,507.70 494.77,507.70C496.31,507.70 497.85,468.79 499.39,468.79C501.30,468.79 503.20,567.73 505.11,567.73C506.20,567.73 507.29,428.06 508.39,428.06C509.04,428.06 509.69,471.83 510.33,471.83C512.24,471.83 514.14,323.52 516.05,323.52C516.86,323.52 517.67,410.43 518.48,410.43C519.49,410.43 520.51,396.45 521.52,396.45C522.74,396.45 523.95,418.99 525.17,449.95C525.90,468.52 526.63,519.86 527.36,519.86C528.37,519.86 529.38,363.03 530.40,363.03C530.84,363.03 531.29,383.69 531.73,383.69C532.66,383.69 533.60,325.95 534.53,325.95C535.46,325.95 536.39,352.69 537.33,361.82C538.05,368.92 538.78,378.00 539.50,378.00C540.19,378.00 540.89,362.43 541.58,362.43C543.00,362.43 544.42,521.07 545.84,521.07C546.73,521.07 547.62,488.85 548.51,488.85C550.25,488.85 552.00,553.14 553.74,553.14C555.36,553.14 556.98,388.55 558.60,388.55C559.01,388.55 559.41,414.85 559.82,429.28C561.36,484.13 562.90,630.95 564.44,630.95C565.03,630.95 565.61,618.47 566.20,612.00C567.07,602.46 567.93,595.73 568.80,582.40C569.86,566.12 570.92,518.03 571.98,518.03C574.08,518.03 576.19,652.23 578.30,652.23C579.11,652.23 579.92,629.13 580.73,629.13C582.26,629.13 583.80,957.16 585.33,957.16C586.45,957.16 587.58,815.20 588.70,815.20C589.02,815.20 589.34,822.42 589.66,822.42C591.78,822.42 593.89,534.08 596.00,520.00C596.30,518.00 596.60,519.00 596.90,517.00C597.60,512.33 598.30,456.64 599.00,436.00C599.84,411.23 600.68,389.16 601.52,389.16C602.28,389.16 603.04,424.40 603.80,434.00C604.30,440.31 604.80,440.73 605.30,446.00C606.07,454.07 606.83,479.13 607.60,479.13C609.10,479.13 610.60,314.40 612.10,314.40C613.31,314.40 614.53,452.38 615.74,457.24C616.15,458.86 616.56,458.05 616.96,459.67C618.13,464.36 619.30,513.17 620.47,513.17C621.97,513.17 623.47,478.52 624.97,478.52C626.43,478.52 627.89,542.81 629.35,542.81C630.52,542.81 631.70,384.90 632.87,384.90C633.93,384.90 634.98,510.13 636.03,510.13C637.25,510.13 638.47,365.47 639.68,365.47C640.98,365.47 642.27,411.04 643.57,411.04C643.98,411.04 644.38,407.40 644.79,407.40C646.33,407.40 647.87,477.91 649.41,477.91C650.22,477.91 651.03,434.14 651.84,434.14C652.53,434.14 653.22,450.12 653.91,462.11C655.85,495.94 657.80,627.30 659.74,627.30C661.65,627.30 663.55,228.08 665.46,228.08C666.27,228.08 667.08,353.48 667.89,395.24C669.22,464.13 670.56,498.58 671.90,498.58C672.59,498.58 673.28,472.44 673.97,472.44C674.37,472.44 674.78,483.99 675.18,483.99C676.40,483.99 677.61,420.16 678.83,420.16C680.53,420.16 682.23,561.04 683.94,561.04C684.99,561.04 686.04,465.15 687.10,465.15C687.87,465.15 688.64,618.79 689.41,618.79C690.34,618.79 691.27,488.25 692.20,488.25C693.91,488.25 695.61,574.42 697.31,574.42C698.85,574.42 700.39,523.50 701.93,523.50C702.94,523.50 703.96,544.02 704.97,544.02C705.70,544.02 706.43,519.25 707.16,519.25C709.79,519.25 712.42,866.21 715.05,866.21C718.58,866.21 722.11,330.81 725.64,330.81C728.15,330.81 730.66,565.30 733.18,565.30C733.91,565.30 734.64,535.51 735.36,535.51C736.26,535.51 737.15,586.57 738.04,586.57C739.78,586.57 741.52,481.56 743.27,481.56C744.34,481.56 745.42,555.84 746.50,590.00C747.50,621.71 748.50,651.80 749.50,680.00C750.17,698.80 750.83,730.67 751.50,734.00C751.90,736.00 752.30,735.00 752.70,737.00C753.47,740.83 754.23,763.60 755.00,763.60C755.95,763.60 756.90,542.20 757.86,542.20C758.87,542.20 759.88,638.25 760.90,638.25C761.71,638.25 762.52,611.50 763.33,611.50C764.14,611.50 764.95,655.06 765.76,663.17C766.65,672.09 767.54,676.54 768.43,676.54C769.37,676.54 770.30,655.63 771.23,655.63C771.84,655.63 772.45,666.21 773.05,666.21C774.27,666.21 775.49,637.71 776.70,587.79C777.59,551.18 778.49,439.61 779.38,439.61C780.11,439.61 780.84,526.54 781.57,526.54C782.24,526.54 782.92,493.53 783.60,474.50C784.34,453.73 785.08,417.37 785.82,406.18C786.61,394.19 787.41,394.36 788.20,388.20C788.95,382.39 789.69,370.33 790.44,370.33C791.25,370.33 792.06,468.19 792.87,468.19C793.84,468.19 794.82,282.18 795.79,282.18C796.63,282.18 797.46,388.91 798.30,401.00C798.68,406.48 799.06,409.22 799.44,409.22C799.79,409.22 800.15,405.03 800.50,401.00C801.48,389.80 802.47,337.50 803.45,337.50C804.87,337.50 806.29,452.99 807.71,452.99C808.52,452.99 809.33,434.14 810.14,434.14C810.54,434.14 810.95,436.57 811.35,436.57C811.90,436.57 812.44,434.94 812.99,434.94C814.22,434.94 815.45,500.57 816.69,504.68C817.29,506.71 817.90,505.69 818.51,507.72C819.32,510.42 820.13,523.24 820.94,523.24C821.75,523.24 822.56,476.72 823.37,476.72C824.91,476.72 826.45,528.71 827.99,528.71C829.09,528.71 830.18,489.48 831.28,489.48C832.01,489.48 832.74,520.81 833.47,520.81C833.95,520.81 834.44,507.11 834.92,507.11C836.14,507.11 837.36,561.53 838.57,561.53C839.91,561.53 841.25,470.03 842.58,470.03C843.60,470.03 844.61,537.22 845.62,537.22C847.04,537.22 848.46,471.85 849.88,471.85C851.38,471.85 852.88,565.18 854.38,565.18C855.39,565.18 856.40,511.37 857.42,511.37C858.55,511.37 859.69,563.36 860.82,563.36C861.63,563.36 862.44,486.44 863.25,486.44C863.94,486.44 864.63,513.19 865.32,513.19C866.01,513.19 866.70,471.25 867.39,471.25C868.32,471.25 869.25,515.33 870.18,515.33C871.11,515.33 872.05,468.21 872.98,468.21C873.79,468.21 874.60,552.42 875.41,552.42C876.14,552.42 876.87,438.42 877.60,438.42C878.57,438.42 879.54,475.99 880.52,477.93C881.33,479.55 882.14,480.36 882.95,480.36C884.29,480.36 885.62,453.62 886.96,453.62C887.93,453.62 888.91,473.68 889.88,473.68C891.05,473.68 892.23,397.69 893.40,397.69C894.17,397.69 894.94,453.29 895.71,454.83C896.12,455.64 896.52,455.24 896.93,456.05C897.62,457.43 898.31,525.06 899.00,525.06C900.01,525.06 901.02,458.48 902.04,458.48C902.77,458.48 903.50,468.87 904.22,475.50C905.12,483.60 906.01,504.07 906.90,504.07C907.63,504.07 908.36,478.54 909.09,478.54C909.90,478.54 910.71,517.16 911.52,517.16C912.33,517.16 913.14,516.96 913.95,516.55C915.37,515.84 916.79,472.06 918.21,470.64C918.61,470.23 919.02,470.44 919.42,470.03C920.03,469.42 920.64,454.83 921.25,454.83C922.66,454.83 924.08,552.42 925.50,552.42C926.51,552.42 927.53,529.32 928.54,529.32C929.47,529.32 930.41,579.77 931.34,579.77C931.82,579.77 932.31,570.65 932.80,570.65C933.40,570.65 934.01,596.19 934.62,596.19C935.63,596.19 936.65,488.27 937.66,488.27C938.67,488.27 939.69,558.50 940.70,558.50C941.83,558.50 942.97,508.33 944.10,508.33C944.99,508.33 945.89,534.18 946.78,534.18C947.79,534.18 948.80,461.52 949.82,461.52C951.03,461.52 952.25,550.59 953.47,550.59C954.40,550.59 955.33,531.75 956.26,531.75C957.36,531.75 958.45,563.45 959.54,573.09C960.35,580.22 961.17,579.12 961.98,587.67C962.53,593.48 963.08,595.18 963.63,610.19C963.92,618.18 964.21,636.91 964.50,647.83C965.22,674.35 965.93,698.64 966.64,698.64C967.72,698.64 968.81,661.00 969.90,661.00C970.40,661.00 970.90,669.79 971.41,669.79C972.03,669.79 972.66,657.76 973.29,647.83C973.91,637.90 974.54,624.83 975.17,610.19C975.80,595.55 976.42,576.21 977.05,560.00C978.23,529.62 979.40,474.29 980.58,474.29C981.75,474.29 982.93,548.16 984.10,548.16C985.04,548.16 985.97,514.41 986.90,514.41C988.72,514.41 990.55,594.36 992.37,594.36C995.01,594.36 997.64,465.78 1000.27,465.78C1001.69,465.78 1003.11,518.98 1004.53,518.98C1005.22,518.98 1005.91,488.27 1006.60,488.27C1006.96,488.27 1007.32,493.00 1007.67,498.60C1008.32,508.71 1008.97,549.98 1009.62,549.98C1010.71,549.98 1011.81,470.64 1012.90,470.64C1013.31,470.64 1013.71,476.72 1014.12,476.72C1015.01,476.72 1015.90,439.64 1016.79,439.64C1017.52,439.64 1018.25,531.26 1018.98,541.47C1019.39,547.15 1019.79,547.42 1020.20,549.98C1020.40,551.27 1020.60,552.27 1020.81,553.63C1021.36,557.37 1021.92,568.16 1022.47,568.16C1023.42,568.16 1024.36,479.76 1025.30,479.76C1026.03,479.76 1026.76,520.20 1027.49,520.20C1028.30,520.20 1029.11,511.37 1029.92,511.37C1030.94,511.37 1031.95,521.41 1032.96,521.41C1034.50,521.41 1036.04,477.08 1037.58,457.26C1038.60,444.23 1039.61,420.18 1040.62,420.18C1041.60,420.18 1042.57,537.22 1043.54,537.22C1044.76,537.22 1045.97,410.46 1047.19,410.46C1048.12,410.46 1049.05,452.49 1049.98,453.01C1050.71,453.41 1051.44,453.21 1052.17,453.62C1052.94,454.04 1053.71,487.66 1054.48,487.66C1055.33,487.66 1056.19,460.30 1057.04,460.30C1057.73,460.30 1058.41,470.64 1059.10,470.64C1060.64,470.64 1062.18,434.77 1063.72,434.77C1065.22,434.77 1066.72,534.54 1068.22,539.04C1069.03,541.47 1069.84,540.26 1070.65,542.69C1071.46,545.12 1072.27,563.36 1073.09,563.36C1074.30,563.36 1075.52,505.29 1076.73,505.29C1077.26,505.29 1077.79,547.55 1078.31,547.55C1079.29,547.55 1080.26,446.32 1081.23,446.32C1082.49,446.32 1083.74,529.32 1085.00,529.32C1085.97,529.32 1086.95,502.86 1087.92,502.86C1088.85,502.86 1089.78,570.05 1090.71,570.05C1091.44,570.05 1092.17,435.38 1092.90,435.38C1093.59,435.38 1094.28,486.44 1094.97,486.44C1096.31,486.44 1097.64,432.34 1098.98,432.34C1100.28,432.34 1101.58,499.21 1102.87,499.21C1103.89,499.21 1104.90,479.76 1105.91,479.76C1106.80,479.76 1107.70,490.70 1108.59,490.70C1109.40,490.70 1110.21,462.74 1111.02,462.74C1111.46,462.74 1111.91,474.89 1112.36,474.89C1113.73,474.89 1115.11,375.20 1116.49,375.20C1118.03,375.20 1119.57,493.13 1121.11,493.13C1122.33,493.13 1123.54,455.31 1124.76,447.54C1125.36,443.65 1125.97,441.46 1126.58,441.46C1127.11,441.46 1127.63,453.62 1128.16,453.62C1128.97,453.62 1129.78,417.14 1130.59,417.14C1131.40,417.14 1132.21,454.22 1133.02,454.22C1133.63,454.22 1134.24,444.50 1134.85,444.50C1135.74,444.50 1136.63,474.89 1137.52,474.89C1138.05,474.89 1138.58,470.03 1139.10,470.03C1140.20,470.03 1141.29,494.35 1142.39,494.35C1143.60,494.35 1144.82,467.60 1146.03,467.60C1147.25,467.60 1148.47,558.50 1149.68,558.50C1150.78,558.50 1151.87,408.63 1152.96,408.63C1153.81,408.63 1154.67,466.99 1155.52,466.99C1156.00,466.99 1156.49,462.74 1156.98,462.74C1157.79,462.74 1158.60,469.45 1159.41,474.89C1160.34,481.16 1161.27,499.21 1162.20,499.21C1163.01,499.21 1163.82,465.17 1164.64,465.17C1165.45,465.17 1166.26,515.33 1167.07,515.33C1168.24,515.33 1169.42,474.29 1170.59,474.29C1171.40,474.29 1172.21,494.95 1173.02,494.95C1174.04,494.95 1175.05,474.89 1176.06,474.89C1176.87,474.89 1177.68,508.33 1178.50,508.33C1179.43,508.33 1180.36,418.36 1181.29,418.36C1182.10,418.36 1182.91,422.01 1183.72,429.30C1185.26,443.16 1186.80,518.37 1188.34,518.37C1189.64,518.37 1190.94,452.40 1192.23,452.40C1193.12,452.40 1194.01,493.31 1194.90,508.00C1195.63,520.12 1196.37,527.73 1197.10,536.50C1198.03,547.64 1198.96,566.40 1199.89,566.40C1200.79,566.40 1201.68,525.06 1202.57,525.06C1203.49,525.06 1204.41,576.28 1205.33,576.28C1206.06,576.28 1206.79,560.90 1207.52,560.90C1208.41,560.90 1209.31,569.06 1210.20,585.40C1210.40,589.11 1210.60,610.52 1210.81,610.93C1211.21,611.74 1211.62,611.58 1212.02,612.14C1212.63,612.99 1213.24,613.36 1213.84,615.79C1214.53,618.55 1215.22,629.77 1215.91,629.77C1216.64,629.77 1217.37,609.71 1218.10,609.71C1218.99,609.71 1219.88,632.81 1220.78,632.81C1221.83,632.81 1222.88,601.81 1223.94,601.81C1224.91,601.81 1225.88,650.44 1226.85,650.44C1227.79,650.44 1228.72,598.16 1229.65,598.16C1229.97,598.16 1230.30,603.63 1230.62,603.63C1230.91,603.63 1231.19,581.74 1231.47,573.24C1232.18,552.00 1232.89,545.68 1233.60,540.00C1233.99,536.91 1234.37,535.36 1234.76,535.36C1235.41,535.36 1236.05,547.52 1236.70,547.52C1237.19,547.52 1237.67,532.50 1238.16,531.11C1238.44,530.30 1238.73,530.70 1239.01,529.89C1239.74,527.81 1240.47,520.04 1241.20,514.70C1242.01,508.76 1242.82,495.85 1243.63,495.85C1244.65,495.85 1245.66,567.58 1246.67,567.58C1247.36,567.58 1248.05,554.21 1248.74,554.21C1249.67,554.21 1250.60,576.88 1251.53,576.88C1252.43,576.88 1253.32,546.91 1254.21,546.91C1254.74,546.91 1255.26,584.18 1255.79,584.18C1256.68,584.18 1257.57,535.36 1258.47,535.36C1259.40,535.36 1260.33,573.20 1261.26,575.06C1261.67,575.87 1262.07,575.47 1262.48,576.28C1262.96,577.25 1263.45,586.00 1263.94,586.00C1265.07,586.00 1266.21,534.10 1267.34,520.78C1268.23,510.31 1269.12,504.97 1270.02,504.97C1270.74,504.97 1271.47,534.15 1272.20,534.15C1273.10,534.15 1273.99,490.99 1274.88,490.99C1275.41,490.99 1275.93,493.42 1276.46,493.42C1276.95,493.42 1277.43,491.35 1277.92,491.35C1279.34,491.35 1280.75,542.66 1282.17,542.66C1283.59,542.66 1285.01,490.14 1286.43,490.14C1286.96,490.14 1287.48,500.11 1288.01,500.11C1288.54,500.11 1289.06,492.20 1289.59,492.20C1290.48,492.20 1291.37,565.15 1292.26,565.15C1293.48,565.15 1294.70,498.28 1295.91,498.28C1296.64,498.28 1297.37,510.44 1298.10,510.44C1298.79,510.44 1299.48,476.40 1300.17,476.40C1300.78,476.40 1301.38,498.89 1301.99,498.89C1302.72,498.89 1303.45,435.06 1304.18,435.06C1304.99,435.06 1305.80,514.09 1306.61,514.09C1307.02,514.09 1307.42,509.83 1307.83,509.83C1308.60,509.83 1309.37,531.11 1310.14,531.11C1310.87,531.11 1311.60,511.66 1312.33,511.66C1312.85,511.66 1313.38,512.87 1313.91,512.87C1314.80,512.87 1315.69,484.91 1316.58,484.91C1318.32,484.91 1320.07,647.40 1321.81,647.40C1323.39,647.40 1324.97,429.59 1326.55,429.59C1327.48,429.59 1328.41,450.06 1329.35,459.38C1330.76,473.56 1332.18,482.68 1333.60,497.67C1335.02,512.67 1336.44,549.35 1337.86,549.35C1339.15,549.35 1340.45,530.50 1341.75,530.50C1343.17,530.50 1344.58,554.82 1346.00,554.82C1348.03,554.82 1350.06,476.40 1352.08,476.40C1352.81,476.40 1353.54,532.33 1354.27,532.33C1355.08,532.33 1355.89,499.50 1356.70,499.50C1357.43,499.50 1358.16,504.36 1358.89,504.36C1359.30,504.36 1359.70,501.32 1360.11,501.32C1361.73,501.32 1363.35,560.29 1364.97,560.29C1366.55,560.29 1368.13,517.74 1369.71,517.74C1370.56,517.74 1371.41,560.29 1372.26,560.29C1373.16,560.29 1374.05,537.80 1374.94,537.80C1376.76,537.80 1378.59,607.56 1380.41,621.87C1381.22,628.23 1382.03,629.70 1382.84,632.81C1383.86,636.70 1384.87,641.93 1385.88,641.93C1386.49,641.93 1387.10,633.42 1387.71,633.42C1388.31,633.42 1388.92,639.70 1389.53,652.26C1389.79,657.74 1390.06,669.83 1390.32,680.00C1391.58,728.18 1392.83,887.00 1394.09,887.00C1394.84,887.00 1395.59,735.51 1396.35,735.51C1398.23,735.51 1400.11,903.94 1401.99,903.94C1402.81,903.94 1403.62,813.83 1404.44,812.67C1404.88,812.04 1405.32,812.35 1405.75,811.73C1406.70,810.38 1407.64,758.41 1408.58,736.45C1409.52,714.50 1410.46,717.64 1411.40,680.00C1412.00,656.11 1412.59,605.52 1413.19,580.08C1413.90,550.01 1414.60,522.88 1415.31,522.88C1416.86,522.88 1418.42,546.89 1419.97,546.89C1420.77,546.89 1421.57,516.99 1422.37,508.76C1422.84,503.91 1423.31,500.75 1423.79,498.87C1424.49,496.05 1425.20,494.63 1425.90,494.63C1426.52,494.63 1427.13,505.93 1427.74,505.93C1428.54,505.93 1429.34,468.17 1430.14,464.97C1430.61,463.09 1431.08,464.03 1431.55,462.15C1432.17,459.70 1432.78,436.02 1433.39,436.02C1434.33,436.02 1435.27,520.06 1436.21,520.06C1436.78,520.06 1437.34,500.28 1437.91,500.28C1439.32,500.28 1440.73,540.54 1442.15,540.54C1443.09,540.54 1444.03,536.53 1444.97,528.53C1446.15,518.53 1447.33,467.09 1448.50,467.09C1449.68,467.09 1450.86,538.42 1452.03,538.42C1452.60,538.42 1453.16,520.76 1453.73,520.76C1454.58,520.76 1455.42,571.61 1456.27,571.61C1456.98,571.61 1457.68,557.82 1458.39,548.31C1459.57,532.44 1460.74,486.16 1461.92,486.16C1463.00,486.16 1464.09,532.77 1465.17,532.77C1466.06,532.77 1466.96,509.46 1467.85,509.46C1468.56,509.46 1469.27,532.06 1469.97,532.06C1470.49,532.06 1471.01,526.77 1471.53,521.47" fill="none" stroke="#000" stroke-width="1.6" stroke-linejoin="round"/>
<line x1="231" y1="222" x2="231" y2="968" stroke="#000" stroke-width="2"/>
<line x1="230" y1="967" x2="1472" y2="967" stroke="#000" stroke-width="2.2"/>
<text transform="translate(135.9,594.6) rotate(-90)" text-anchor="middle" class="yt">Business Conditions</text>
<text x="851" y="170" text-anchor="middle" class="title">Aruoba-Diebold-Scotti Business Conditions Index (3/1/1960 - 12/10/2011)</text>
</svg>
<div class="note">Note: We construct the ADS Index using the latest data available as of December 15, 2011. This includes (1) initial jobless claims through the week ending December 10, 2011,
 (2) payroll employment through November 2011, (3) industrial production through November 2011, (4) real personal income through October 2011, (5) real manufacturing and trade sales
 through September 2011, and (6) real GDP through the third quarter of 2011. Gray shading indicates NBER-designated recessions. The limits used on the y axis reflect the minimum
 and maximum values of the index over its entire history.</div>
</body></html>
